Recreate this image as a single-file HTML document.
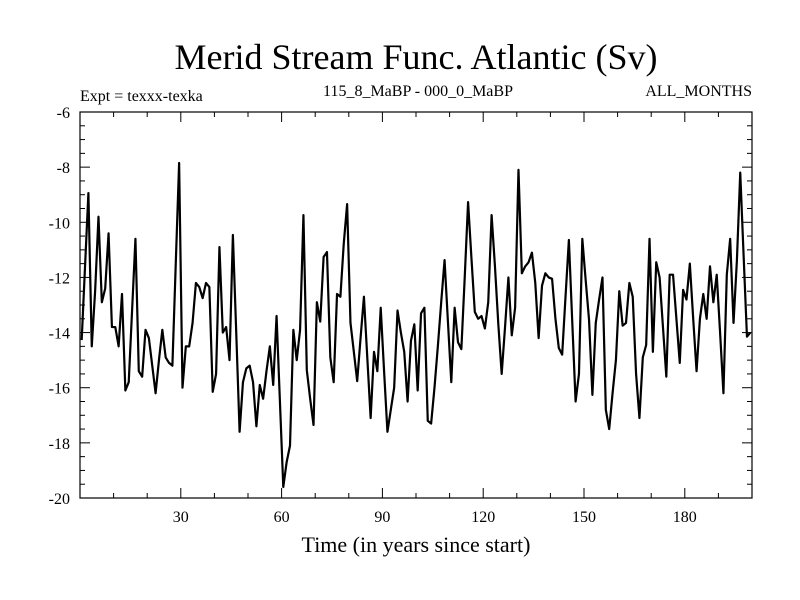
<!DOCTYPE html>
<html><head><meta charset="utf-8"><style>
body{margin:0;background:#fff}
svg{display:block;font-family:"Liberation Serif",serif}
</style></head><body>
<svg id="chart" width="800" height="600">
<text x="416" y="69" font-size="36" text-anchor="middle">Merid Stream Func. Atlantic (Sv)</text>
<text x="80" y="101" font-size="16">Expt = texxx-texka</text>
<text x="418" y="96" font-size="16" text-anchor="middle">115_8_MaBP - 000_0_MaBP</text>
<text x="752" y="96" font-size="16" text-anchor="end">ALL_MONTHS</text>
<text x="416" y="552" font-size="22" text-anchor="middle">Time (in years since start)</text>
<g id="axes"></g>
<rect x="80" y="112" width="672" height="386" fill="none" stroke="#000" stroke-width="1.2"/>
<path id="line" fill="none" stroke="#000" stroke-width="2.2" stroke-linejoin="round"/>
</svg>
<script>
const values=[-14.27,-11.6,-8.94,-14.5,-12.5,-9.8,-12.9,-12.4,-10.4,-13.8,
-13.8,-14.5,-12.6,-16.1,-15.8,-13.2,-10.6,-15.4,-15.6,-13.9,
-14.2,-15.2,-16.2,-15,-13.9,-14.9,-15.1,-15.2,-11.5,-7.85,
-16,-14.5,-14.5,-13.65,-12.2,-12.35,-12.75,-12.2,-12.35,-16.15,
-15.5,-10.9,-14,-13.8,-15,-10.46,-14,-17.6,-15.8,-15.3,
-15.2,-15.8,-17.4,-15.9,-16.4,-15.4,-14.5,-15.9,-13.4,-16.5,
-19.6,-18.7,-18.1,-13.9,-15,-13.9,-9.74,-15.36,-16.4,-17.35,
-12.9,-13.6,-11.26,-11.08,-14.9,-15.8,-12.6,-12.7,-10.77,-9.34,
-13.65,-14.7,-15.76,-14.2,-12.7,-14.9,-17.1,-14.7,-15.4,-13.1,
-15.4,-17.6,-16.8,-16,-13.2,-14,-14.7,-16.5,-14.3,-13.7,
-16.1,-13.3,-13.1,-17.2,-17.3,-16,-14.5,-12.9,-11.37,-13.6,
-15.8,-13.1,-14.35,-14.6,-12,-9.27,-11.3,-13.25,-13.5,-13.4,
-13.85,-12.9,-9.74,-11.6,-13.7,-15.5,-13.8,-12,-14.1,-13.1,
-8.1,-11.85,-11.6,-11.45,-11.1,-12.2,-14.2,-12.3,-11.85,-12,
-12.05,-13.5,-14.56,-14.8,-12.7,-10.64,-13.6,-16.5,-15.5,-10.6,
-12.1,-13.54,-16.26,-13.65,-12.8,-12,-16.8,-17.5,-16.2,-15,
-12.5,-13.75,-13.65,-12.2,-12.7,-15.5,-17.1,-14.9,-14.45,-10.6,
-14.7,-11.45,-12,-13.8,-15.6,-11.9,-11.9,-13.5,-15.1,-12.45,
-12.8,-11.5,-13.5,-15.4,-13.5,-12.6,-13.5,-11.6,-12.9,-11.9,
-14,-16.2,-11.9,-10.6,-13.65,-11.4,-8.2,-11.2,-14.15,-14.0];
const xTicks=[30,60,90,120,150,180];
const yTicks=[-6,-8,-10,-12,-14,-16,-18,-20];
const X0=80,X1=752,Y0=112,Y1=498;
const xs=t=>X0+(t/200)*(X1-X0);
const ys=v=>Y0+((-6-v)/14)*(Y1-Y0);
const NS='http://www.w3.org/2000/svg';
const ax=document.getElementById('axes');
function mk(tag,attrs){const e=document.createElementNS(NS,tag);for(const k in attrs)e.setAttribute(k,attrs[k]);ax.appendChild(e);return e;}
for(let t=10;t<200;t+=10){
  const major=t%30===0,L=major?10:5,x=xs(t);
  const a=mk('line',{x1:x,x2:x,y1:Y1,y2:Y1-L,stroke:'#000'});
  
  
  const b=mk('line',{x1:x,x2:x,y1:Y0,y2:Y0+L,stroke:'#000'});
  
  
}
xTicks.forEach(t=>{
  const e=mk('text',{x:xs(t),y:522,'font-size':16,'text-anchor':'middle'});
  e.textContent=t;
  
  
});
for(let v=-6;v>=-20;v-=0.5){
  const major=v%2===0,L=major?10:5,y=ys(v);
  const a=mk('line',{x1:X0,x2:X0+L,y1:y,y2:y,stroke:'#000'});
  
  
  const b=mk('line',{x1:X1,x2:X1-L,y1:y,y2:y,stroke:'#000'});
  
  
}
yTicks.forEach(v=>{
  const e=mk('text',{x:70,y:ys(v)+6,'font-size':16,'text-anchor':'end'});
  e.textContent=v;
  
  
});
document.getElementById('line').setAttribute('d',values.map((v,i)=>(i?'L':'M')+xs(i+0.5).toFixed(2)+','+ys(v).toFixed(2)).join(''));
</script>
</body></html>
